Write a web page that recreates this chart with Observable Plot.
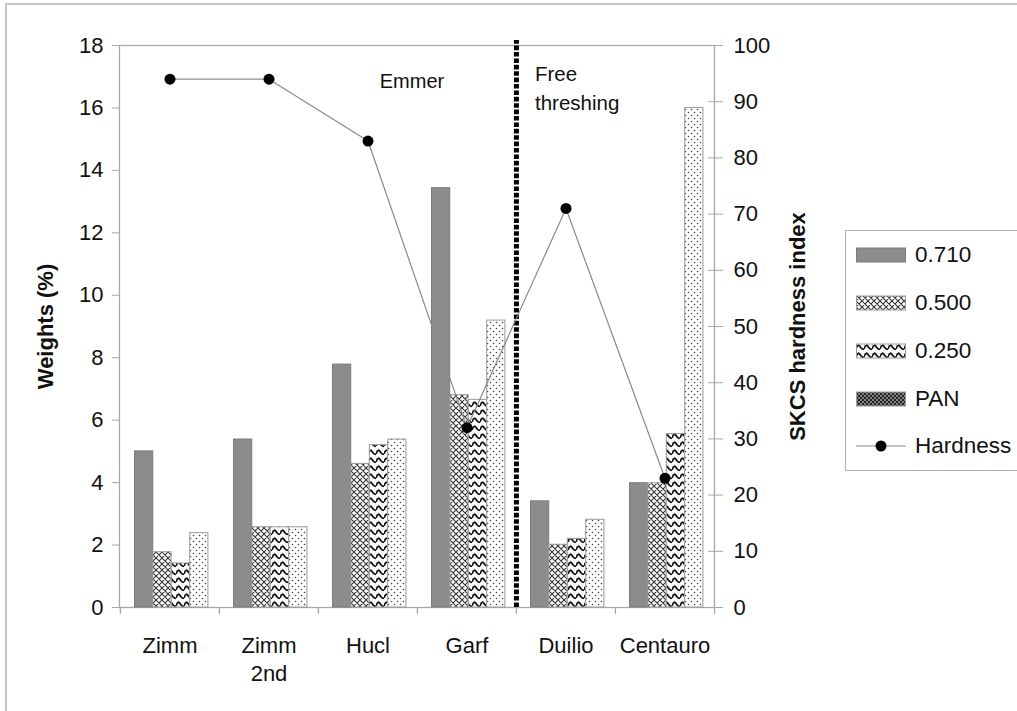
<!DOCTYPE html>
<html>
<head>
<meta charset="utf-8">
<script src="https://cdn.jsdelivr.net/npm/d3@7"></script>
<script src="https://cdn.jsdelivr.net/npm/@observablehq/plot@0.6"></script>
<style>
  html, body { margin: 0; padding: 0; background: white; overflow: hidden; }
  #wrap { position: relative; width: 1017px; height: 711px; font-family: "Liberation Sans", Arial, sans-serif; }
  #border { position: absolute; left: 5px; top: 3px; right: -10px; bottom: -10px; border-left: 2px solid #c6c6c6; border-top: 2px solid #c6c6c6; pointer-events: none; }
  #legend { position: absolute; left: 845px; top: 230px; width: 180px; height: 239px; border: 1px solid #b4b4b4; background: white; }
  .item { position: absolute; left: 10px; height: 24px; display: flex; align-items: center; font-size: 22.5px; color: #111; white-space: nowrap; }
  .item svg { margin-right: 9px; }
</style>
</head>
<body>
<div id="wrap"></div>
<script>
// ---- data ----
const categories = ["Zimm", "Zimm 2nd", "Hucl", "Garf", "Duilio", "Centauro"];
const series = ["0.710", "0.500", "0.250", "PAN"];
const w710 = [5.0, 5.38, 7.78, 13.43, 3.40, 3.98];
const w500 = [1.77, 2.57, 4.6, 6.8, 2.01, 3.98];
const w250 = [1.41, 2.57, 5.2, 6.65, 2.2, 5.56];
const wPAN = [2.38, 2.57, 5.38, 9.19, 2.81, 16.0];
const hardness = [94, 94, 83, 32, 71, 23];
const leftTicks = [0, 2, 4, 6, 8, 10, 12, 14, 16, 18];
const rightTicks = [0, 10, 20, 30, 40, 50, 60, 70, 80, 90, 100];
const hardnessMax = 100;
const weightMax = 18;
const notes = [
  {cat: "Garf", y: 16.85, label: "Emmer"},
  {cat: "Duilio", y: 16.69, label: "Free\nthreshing"}
];

// ---- layout ----
const W = 1017, H = 711;
const mL = 119, mR = 303, mT = 45, mB = 104;
const bw = (W - mL - mR) / categories.length;
const padL = 14.5, barW = 18.4;
const toW = h => h * weightMax / hardnessMax;

const rows = categories.map((c, i) => ({cat: c, v: [w710[i], w500[i], w250[i], wPAN[i]], h: hardness[i]}));
const fills = ["#8c8c8c", "url(#p500)", "url(#p250)", "url(#pPAN)"];
const strokes = ["#7c7c7c", "#9a9a9a", "#9a9a9a", "#9a9a9a"];
const font = "Liberation Sans, Arial, sans-serif";
const FS = 22;

const barMarks = series.map((s, k) => Plot.barY(rows, {
  x: "cat", y: d => d.v[k], fill: fills[k], stroke: strokes[k], strokeWidth: 1,
  insetLeft: padL + k * barW, insetRight: bw - (padL + (k + 1) * barW)
}));

const chart = Plot.plot({
  width: W, height: H,
  marginLeft: mL, marginRight: mR, marginTop: mT, marginBottom: mB,
  style: {fontFamily: font, fontSize: FS + "px", background: "transparent", overflow: "visible"},
  x: {type: "band", domain: categories, padding: 0},
  y: {domain: [0, weightMax]},
  marks: [
    Plot.frame({stroke: "#a8a8a8", strokeWidth: 1.3}),
    ...barMarks,
    // category boundary ticks
    Plot.ruleX(categories, {x: d => d, dx: -bw / 2, y1: 0, y2: -0.22, stroke: "#a8a8a8", strokeWidth: 1.3}),
    Plot.ruleX([categories[categories.length - 1]], {x: d => d, dx: bw / 2, y1: 0, y2: -0.22, stroke: "#a8a8a8", strokeWidth: 1.3}),
    // divider Emmer / Free threshing
    Plot.ruleX(["Duilio"], {x: d => d, dx: -bw / 2, y1: 0, y2: 18.16, stroke: "black", strokeWidth: 5, strokeDasharray: "4.6,1.8"}),
    // hardness line
    Plot.line(rows, {x: "cat", y: d => toW(d.h), stroke: "#8a8a8a", strokeWidth: 1.2}),
    Plot.dot(rows, {x: "cat", y: d => toW(d.h), r: 5.5, fill: "black", stroke: "none"}),
    // annotations
    Plot.text(notes, {x: "cat", y: "y", text: "label", filter: d => d.label === "Emmer", dx: -55, fontSize: 20, fill: "#111"}),
    Plot.text(notes, {x: "cat", y: "y", text: "label", filter: d => d.label !== "Emmer", dx: -31, textAnchor: "start", fontSize: 20.5, lineHeight: 1.4, fill: "#111"}),
    // axes
    Plot.axisY({ticks: leftTicks, tickSize: 7, tickPadding: 9, stroke: "#a8a8a8", fill: "#111", fontSize: FS, label: null}),
    Plot.axisY({anchor: "right", ticks: rightTicks.map(toW), tickSize: 15, dx: -7, tickFormat: () => "", stroke: "#a8a8a8", label: null}),
    Plot.axisY({anchor: "right", ticks: rightTicks.map(toW), tickSize: 0, tickPadding: 19, tickFormat: d => String(Math.round(d * hardnessMax / weightMax)), fill: "#111", fontSize: FS, label: null}),
    Plot.axisX({tickSize: 0, tickPadding: 25, tickFormat: d => d.replace(" ", "\n"), lineAnchor: "top", lineHeight: 1.3, fill: "#111", fontSize: FS, label: null}),
    // axis titles
    Plot.text(["Weights (%)"], {frameAnchor: "left", dx: -74, rotate: -90, textAnchor: "middle", fontWeight: "bold", fontSize: FS, fill: "#111"}),
    Plot.text(["SKCS hardness index"], {frameAnchor: "right", dx: 83, rotate: -90, textAnchor: "middle", fontWeight: "bold", fontSize: FS, fill: "#111"})
  ]
});

const ns = "http://www.w3.org/2000/svg";
const defs = document.createElementNS(ns, "defs");
defs.innerHTML = `
  <pattern id="p500" width="6" height="6" patternUnits="userSpaceOnUse">
    <rect width="6" height="6" fill="white"/>
    <path d="M0,0 L6,6 M6,0 L0,6 M-1,5 L1,7 M5,-1 L7,1 M-1,1 L1,-1 M5,7 L7,5" stroke="#333" stroke-width="1.1"/>
  </pattern>
  <pattern id="p250" width="8" height="8" patternUnits="userSpaceOnUse">
    <rect width="8" height="8" fill="white"/>
    <path d="M0,6 C1.2,2 2.8,1.5 4,3.5 C5.2,5.5 6.8,6.5 8,6" stroke="#1a1a1a" stroke-width="1.9" fill="none"/>
  </pattern>
  <pattern id="pPAN" width="6" height="6" patternUnits="userSpaceOnUse">
    <rect width="6" height="6" fill="white"/>
    <circle cx="1.5" cy="1.5" r="0.8" fill="#444"/>
    <circle cx="4.5" cy="4.5" r="0.8" fill="#444"/>
  </pattern>
  <pattern id="pPANleg" width="4" height="4" patternUnits="userSpaceOnUse">
    <rect width="4" height="4" fill="#222"/>
    <circle cx="1" cy="1" r="0.8" fill="white"/>
    <circle cx="3" cy="3" r="0.8" fill="white"/>
  </pattern>`;
chart.insertBefore(defs, chart.firstChild);

const wrap = document.getElementById("wrap");
wrap.appendChild(chart);
const border = document.createElement("div");
border.id = "border";
wrap.appendChild(border);

// legend
const legend = document.createElement("div");
legend.id = "legend";
const legFills = ["#8c8c8c", "url(#p500)", "url(#p250)", "url(#pPANleg)"];
const tops = [12, 60, 108, 156, 203];
series.forEach((s, k) => {
  const it = document.createElement("div");
  it.className = "item";
  it.style.top = tops[k] + "px";
  it.innerHTML = `<svg width="50" height="16"><rect x="0.5" y="1" width="49" height="14" fill="${legFills[k]}" stroke="${strokes[k]}"/></svg><span>${s}</span>`;
  legend.appendChild(it);
});
const hl = document.createElement("div");
hl.className = "item";
hl.style.top = tops[4] + "px";
hl.innerHTML = `<svg width="50" height="16"><line x1="0" x2="50" y1="8" y2="8" stroke="#8a8a8a" stroke-width="1.2"/><circle cx="25" cy="8" r="5.5" fill="black"/></svg><span>Hardness</span>`;
legend.appendChild(hl);
wrap.appendChild(legend);
</script>
</body>
</html>
